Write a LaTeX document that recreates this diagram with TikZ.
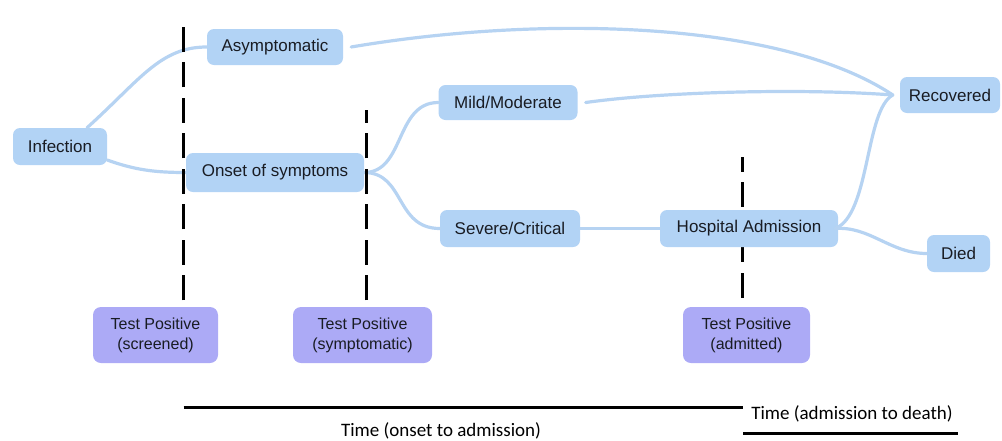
\documentclass[tikz,border=0pt]{standalone}
\usepackage{fontspec}
\setmainfont{Liberation Sans}
\newfontfamily\nodefont{Liberation Sans}
\newfontfamily\timefont{Carlito}
\definecolor{stagefill}{RGB}{178,211,245}
\definecolor{testfill}{RGB}{172,170,246}
\definecolor{linkcol}{RGB}{182,211,242}
\definecolor{inkcol}{RGB}{25,28,35}
\begin{document}
\begin{tikzpicture}[x=1pt,y=-1pt,
  stage/.style={fill=stagefill, rounded corners=7pt, inner sep=0pt, minimum height=37pt, text=inkcol, font={\nodefont\fontsize{17}{20}\selectfont}},
  testbox/.style={fill=testfill, rounded corners=8pt, inner sep=0pt, minimum height=56pt, align=center, text=inkcol, font={\nodefont\fontsize{16}{20}\selectfont}},
  link/.style={draw=linkcol, line width=3.2pt, line cap=round},
  marker/.style={draw=black, line width=3pt, dash pattern=on 25pt off 10.5pt},
  timeline/.style={draw=black, line width=3pt},
  timelabel/.style={font={\timefont\fontsize{19}{22}\selectfont}, inner sep=0pt}]
\useasboundingbox (0,0) rectangle (1002,440);

% marker coordinates
\coordinate (m1a) at (183.5,300);
\coordinate (m1b) at (183.5,23);
\coordinate (m2a) at (366,300);
\coordinate (m2b) at (366,110);
\coordinate (m3a) at (742.5,157);
\coordinate (m3b) at (742.5,298);

% nodes
\node[stage, minimum width=94pt] (inf) at (60,146.5) {Infection};
\node[stage, minimum width=136pt, minimum height=36pt] (asym) at (275,47) {Asymptomatic};
\node[stage, minimum width=178pt, minimum height=39pt] (onset) at (275,172.5) {Onset of symptoms};
\node[stage, minimum width=139pt, minimum height=35pt] (mild) at (508,102.5) {Mild/Moderate};
\node[stage, minimum width=140pt] (severe) at (510,228.5) {Severe/Critical};
\node[stage, minimum width=100pt, minimum height=36pt] (rec) at (950,95) {Recovered};
\node[stage, minimum width=63pt] (died) at (958.5,253.5) {Died};

\node[testbox, minimum width=125pt] (tscr) at (155.5,335) {Test Positive\\(screened)};
\node[testbox, minimum width=139pt] (tsym) at (362.5,335) {Test Positive\\(symptomatic)};
\node[testbox, minimum width=127pt] (tadm) at (746.5,335) {Test Positive\\(admitted)};

% markers (drawn before the hospital box, which hides part of one)
\draw[marker] (m1a) -- (m1b);
\draw[marker] (m2a) -- (m2b);
\draw[marker, dash pattern=on 15pt off 10pt on 25pt off 30pt on 25pt off 11pt on 25pt off 100pt] (m3a) -- (m3b);

\node[stage, minimum width=178pt] (hosp) at (749,228.5) {Hospital Admission};

% links
\draw[link] ([xshift=27pt]inf.north) .. controls (140,80) and (160,47) .. (asym.west);
\draw[link] ([yshift=-13.5pt]inf.east) .. controls (135,170) and (155,172.5) .. (onset.west);
\draw[link] ([xshift=8pt]asym.east) .. controls (540,15) and (780,20) .. ([xshift=-7pt]rec.west);
\draw[link] (onset.east) .. controls (405,172.5) and (395,102.5) .. (mild.west);
\draw[link] (onset.east) .. controls (405,172.5) and (395,228.5) .. (severe.west);
\draw[link] ([xshift=8pt]mild.east) .. controls (660,92) and (800,88) .. ([xshift=-7pt]rec.west);
\draw[link] (severe.east) -- (hosp.west);
\draw[link] ([xshift=-3pt]hosp.east) .. controls (870,215) and (865,110) .. ([xshift=-7pt]rec.west);
\draw[link] ([xshift=-3pt]hosp.east) .. controls (870,226) and (890,253.5) .. (died.west);

% redraw the marker ends over the onset box edges
\draw[marker] (m1a) -- (m1b);
\draw[marker] (m2a) -- (m2b);

% time axes
\coordinate (ta) at (183.5,407);
\coordinate (tb) at (742.5,407);
\draw[timeline] (ta) -- (tb);
\node[timelabel] (t1) at (441,431) {Time (onset to admission)};
\node[timelabel] (t2) at (852,414) {Time (admission to death)};
\coordinate (tc) at (743,433);
\coordinate (td) at (958,433);
\draw[timeline] (tc) -- (td);
\end{tikzpicture}
\end{document}
